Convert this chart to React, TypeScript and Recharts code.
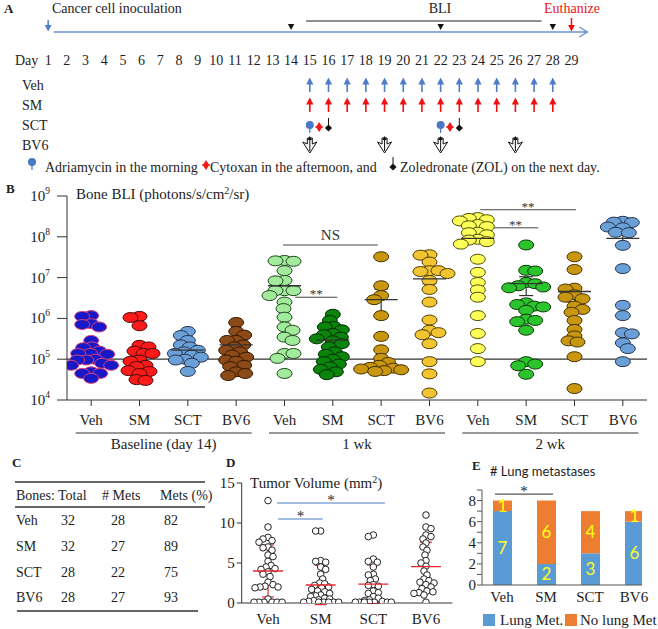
import React from 'react';
import {
  ScatterChart, Scatter, XAxis, YAxis, ReferenceLine, ErrorBar,
  BarChart, Bar, LabelList,
} from 'recharts';

const SERIF = "'Liberation Serif', 'Times New Roman', Times, serif";
const SANS = "Lato, 'Liberation Sans', Arial, sans-serif";
const INK = '#1d1d1d';

/* ================= Panel A : schedule ================= */
const DAYS = [1, 2, 3, 4, 5, 6, 7, 8, 9, 10, 11, 12, 13, 14, 15, 16, 17, 18, 19, 20, 21, 22, 23, 24, 25, 26, 27, 28, 29];
const TREATMENT_ROWS = ['Veh', 'SM', 'SCT', 'BV6'];
const VEH_DOSE_DAYS = [15, 16, 17, 18, 19, 20, 21, 22, 23, 24, 25, 26, 27, 28];
const SM_DOSE_DAYS = [15, 16, 17, 18, 19, 20, 21, 22, 23, 24, 25, 26, 27, 28];
const ADRIAMYCIN_DAYS = [15, 22];
const CYTOXAN_DAYS = [15.5, 22.5];
const ZOL_DAYS = [16, 23];
const BV6_DOSE_DAYS = [15, 19, 22, 26];
const INOCULATION_DAYS = [1];
const BLI_DAYS = [14, 22, 28];
const EUTHANIZE_DAYS = [29];
const TIMELINE_RANGE = [1.3, 29.85];
const BLI_RANGE = [14.8, 27.4];

/* ================= Panel B : bone BLI ================= */
const B_CATEGORIES = ['Veh', 'SM', 'SCT', 'BV6', 'Veh', 'SM', 'SCT', 'BV6', 'Veh', 'SM', 'SCT', 'BV6'];
const B_PERIODS = ['Baseline (day 14)', '1 wk', '2 wk'];
const B_PERIOD_CENTERS = [1.5, 5.5, 9.5];
const B_Y_TICKS = [1e4, 1e5, 1e6, 1e7, 1e8, 1e9];

const BASELINE_VEH = [1.17e6, 1.12e6, 7.41e5, 7.08e5, 6.17e5, 2.88e5, 2.0e5, 1.91e5, 1.58e5, 1.38e5, 1.38e5, 1.32e5, 1.0e5, 9.55e4, 9.55e4, 7.94e4, 7.08e4, 7.08e4, 4.9e4, 4.47e4, 4.47e4, 3.39e4];
const BASELINE_SM = [1.12e6, 1.05e6, 6.61e5, 2.19e5, 2.0e5, 1.58e5, 1.38e5, 1.38e5, 9.55e4, 8.91e4, 7.08e4, 6.61e4, 5.25e4, 5.01e4, 4.47e4, 3.16e4, 3.02e4];
const BASELINE_SCT = [4.79e5, 3.8e5, 2.88e5, 2.24e5, 2.0e5, 1.66e5, 1.51e5, 1.38e5, 1.26e5, 1.12e5, 1.0e5, 9.55e4, 7.94e4, 5.01e4];
const BASELINE_BV6 = [7.94e5, 4.79e5, 3.89e5, 2.88e5, 2.88e5, 2.24e5, 2.0e5, 1.66e5, 1.51e5, 1.26e5, 1.12e5, 9.55e4, 8.91e4, 7.08e4, 6.61e4, 4.9e4, 4.47e4, 3.98e4];
const WK1_VEH = [2.63e7, 2.57e7, 2.51e7, 1.48e7, 8.51e6, 8.32e6, 4.79e6, 4.79e6, 4.79e6, 3.63e6, 2.51e6, 1.74e6, 1.07e6, 6.17e5, 5.13e5, 3.47e5, 2.88e5, 1.38e5, 1.38e5, 1.05e5, 4.47e4];
const WK1_SM = [1.26e6, 8.91e5, 6.31e5, 6.17e5, 5.25e5, 4.27e5, 3.98e5, 3.47e5, 3.16e5, 2.82e5, 2.4e5, 2.0e5, 1.51e5, 1.32e5, 1.15e5, 1.0e5, 8.71e4, 7.59e4, 6.46e4, 5.62e4, 4.9e4, 4.17e4];
const WK1_SCT = [3.24e7, 6.31e6, 3.63e6, 2.88e6, 1.17e6, 3.63e5, 1.7e5, 1.05e5, 8.32e4, 7.08e4, 6.31e4, 6.03e4, 5.75e4, 5.5e4, 5.25e4, 5.01e4];
const WK1_BV6 = [3.63e7, 3.55e7, 2.4e7, 1.48e7, 1.48e7, 1.41e7, 1.26e7, 8.51e6, 5.13e6, 2.51e6, 9.12e5, 5.13e5, 4.47e5, 3.98e5, 2.4e5, 8.71e4, 4.37e4, 1.48e4];
const WK2_VEH = [2.95e8, 2.82e8, 2.63e8, 2.45e8, 2.0e8, 1.86e8, 1.78e8, 1.29e8, 1.26e8, 1.12e8, 8.71e7, 8.32e7, 7.59e7, 6.61e7, 2.82e7, 1.35e7, 7.59e6, 5.01e6, 3.31e6, 1.17e6, 4.27e5, 1.82e5, 8.71e4];
const WK2_SM = [6.31e7, 1.51e7, 1.45e7, 7.59e6, 7.08e6, 6.31e6, 5.89e6, 5.62e6, 2.4e6, 2.19e6, 2.0e6, 1.91e6, 1.58e6, 9.55e5, 8.91e5, 8.32e5, 5.13e5, 8.71e4, 7.59e4, 6.92e4, 4.27e4];
const WK2_SCT = [3.24e7, 1.58e7, 5.5e6, 5.25e6, 3.8e6, 3.31e6, 3.02e6, 2.0e6, 1.66e6, 1.41e6, 8.91e5, 5.37e5, 3.72e5, 2.82e5, 2.63e5, 1.15e5, 1.91e4];
const WK2_BV6 = [2.4e8, 2.29e8, 2.24e8, 1.74e8, 1.66e8, 1.29e8, 1.26e8, 6.17e7, 1.66e7, 2.09e6, 1.17e6, 4.47e5, 4.17e5, 2.51e5, 1.82e5, 8.71e4];

const B_MEAN = [null, null, 1.66e5, 2.24e5, 6.31e6, 2.95e5, 2.88e6, 9.33e6, 9.12e7, 7.08e6, 4.57e6, 9.12e7];
const B_SEM_LOW = [null, null, 1.38e5, 1.86e5, 4.17e6, 2.51e5, 1.17e6, 7.08e6, 8.51e7, 3.63e6, 2.51e6, 6.61e7];
const B_SEM_HIGH = [null, null, 2.0e5, 2.63e5, 8.71e6, 3.98e5, 5.25e6, 1.2e7, 1.12e8, 1.05e7, 6.03e6, 1.17e8];

const B_SIG_X1 = [3.97, 4.22, 8.05, 8.31];
const B_SIG_X2 = [5.93, 5.09, 10.03, 9.25];
const B_SIG_Y = [6.3e7, 3.3e6, 4.6e8, 1.66e8];
const B_SIG_LABEL = ['NS', '**', '**', '**'];

/* ================= Panel C : table ================= */
const C_HEADERS = ['Bones:', 'Total', '# Mets', 'Mets (%)'];
const C_GROUPS = ['Veh', 'SM', 'SCT', 'BV6'];
const C_TOTAL = [32, 32, 28, 28];
const C_METS = [28, 27, 22, 27];
const C_PCT = [82, 89, 75, 93];

/* ================= Panel D : tumor volume ================= */
const D_GROUPS = ['Veh', 'SM', 'SCT', 'BV6'];
const D_VEH = [12.8, 9.5, 8.2, 8.0, 7.8, 7.6, 7.0, 6.9, 6.6, 6.0, 5.8, 5.2, 4.7, 4.5, 4.3, 4.2, 3.9, 3.6, 3.3, 2.6, 2.3, 2.1, 2.0, 2.0, 1.9, 0.5, 0.1, 0.1, 0.1, 0.1, 0.1, 0.1];
const D_SM = [9.0, 9.0, 5.3, 5.2, 5.1, 4.5, 4.2, 3.6, 3.0, 2.5, 2.4, 2.2, 2.0, 1.9, 1.7, 1.5, 1.4, 1.2, 1.0, 0.9, 0.8, 0.6, 0.5, 0.4, 0.3, 0.2, 0.1, 0.1, 0.1, 0.1, 0.1, 0.1];
const D_SCT = [8.5, 8.3, 5.5, 5.2, 5.1, 4.5, 3.6, 3.5, 3.0, 2.8, 2.3, 2.2, 2.1, 1.5, 1.3, 1.2, 0.8, 0.6, 0.4, 0.3, 0.2, 0.1, 0.1, 0.1, 0.1, 0.1, 0.1, 0.1];
const D_BV6 = [11.0, 9.5, 9.3, 8.5, 8.3, 8.0, 7.5, 7.0, 6.6, 6.0, 5.3, 5.0, 4.6, 4.0, 3.5, 3.0, 2.8, 2.6, 2.5, 2.3, 2.0, 1.8, 1.5, 1.4, 1.3, 1.2, 1.0, 0.1];
const D_MEAN = [4.0, 2.25, 2.35, 4.55];
const D_SD = [3.25, 2.45, 2.4, 3.05];
const D_Y_TICKS = [0, 5, 10, 15];
const D_SIG_X1 = [0.17, 0.19];
const D_SIG_X2 = [2.22, 1.04];
const D_SIG_Y = [12.5, 10.5];

/* ================= Panel E : lung metastases ================= */
const E_GROUPS = ['Veh', 'SM', 'SCT', 'BV6'];
const E_LUNG_MET = [7, 2, 3, 6];
const E_NO_LUNG_MET = [1, 6, 4, 1];
const E_SERIES_NAMES = ['Lung Met.', 'No lung Met'];
const E_Y_TICKS = [0, 1, 2, 3, 4, 5, 6, 7, 8, 9];
const E_SIG = { x1: -0.16, x2: 1.16, y: 8.6 };

/* ================= styles / layout ================= */
const A_LEFT = 29.45;
const A_RIGHT = 67.85;
const BLUE_ARROW = '#4d7cc9';
const RED_ARROW = '#f01010';
const B_PX_PER_CAT = 580 / 12;
const B_PX_PER_DECADE = 204 / 5;
const D_PX_PER_CAT = 210.6 / 4;
const D_PX_PER_UNIT = 8;
const B_FILL = ['#1818c8', '#ff1a1a', '#6a9fd8', '#8b4a17', '#a2eb9c', '#0b840b', '#c8960f', '#f2c430', '#ffff5a', '#2cc42c', '#c8960f', '#6a9fd8'];
const B_STROKE = ['#d8407a', '#4a0808', '#25354f', '#341700', '#1c451c', '#042c04', '#433000', '#4a3a00', '#4d4d00', '#0a360a', '#433000', '#25354f'];
const E_COLORS = ['#5b9bd5', '#ed7d31'];

/* beeswarm layout: horizontal offsets (px) so points don't pile on top of each other */
function swarmOffsets(values: number[], toPx: (v: number) => number, dx: number, dy: number, maxOff: number): number[] {
  const order = values.map((_, i) => i).sort((a, b) => values[b] - values[a]);
  const placed: { x: number; y: number }[] = [];
  const out = new Array(values.length).fill(0);
  order.forEach((i, n) => {
    const y = toPx(values[i]);
    const cands = [0];
    const s = n % 2 ? -1 : 1;
    for (let k = 1; k <= maxOff; k++) cands.push(s * k, -s * k);
    let best = 0;
    let bestScore = Infinity;
    for (const c of cands) {
      let score = 0;
      for (const p of placed) {
        const q = ((p.x - c) / dx) ** 2 + ((p.y - y) / dy) ** 2;
        if (q < 1) score += 1 - q;
      }
      if (score === 0) { best = c; bestScore = 0; break; }
      if (score < bestScore - 1e-9) { bestScore = score; best = c; }
    }
    placed.push({ x: best, y });
    out[i] = best;
  });
  return out;
}

const B_SERIES = [BASELINE_VEH, BASELINE_SM, BASELINE_SCT, BASELINE_BV6, WK1_VEH, WK1_SM, WK1_SCT, WK1_BV6, WK2_VEH, WK2_SM, WK2_SCT, WK2_BV6];
const B_POINTS = B_SERIES.map((vals, i) => {
  const off = swarmOffsets(vals, (v) => Math.log10(v) * B_PX_PER_DECADE, 9, 6.5, 20);
  return vals.map((v, k) => ({ x: i + off[k] / B_PX_PER_CAT, y: v }));
});
const B_MEAN_DATA = B_MEAN.map((m, i) => (m == null ? null : {
  x: i, y: m, err: [m - (B_SEM_LOW[i] as number), (B_SEM_HIGH[i] as number) - m],
})).filter(Boolean) as { x: number; y: number; err: number[] }[];

const D_SERIES = [D_VEH, D_SM, D_SCT, D_BV6];
const D_POINTS = D_SERIES.map((vals, i) => {
  const off = swarmOffsets(vals, (v) => v * D_PX_PER_UNIT, 5, 5, 18);
  return vals.map((v, k) => ({ x: i + off[k] / D_PX_PER_CAT, y: v }));
});
const D_MEAN_DATA = D_MEAN.map((m, i) => ({ x: i, y: m, err: [D_SD[i], D_SD[i]] }));

const E_DATA = E_GROUPS.map((g, i) => ({ x: i, met: E_LUNG_MET[i], none: E_NO_LUNG_MET[i] }));

/* ================= glyphs ================= */
type P = { cx?: number; cy?: number };
const upArrow = (color: string) => ({ cx = 0, cy = 0 }: P) => (
  <g>
    <line x1={cx} x2={cx} y1={cy + 7} y2={cy - 2} stroke={color} strokeWidth={1.6} />
    <polygon points={`${cx},${cy - 7.5} ${cx - 3.6},${cy - 0.5} ${cx + 3.6},${cy - 0.5}`} fill={color} />
  </g>
);
const downArrow = (color: string, len: number) => ({ cx = 0, cy = 0 }: P) => (
  <g>
    <line x1={cx} x2={cx} y1={cy - len} y2={cy - 5} stroke={color} strokeWidth={1.5} />
    <polygon points={`${cx},${cy - 0.5} ${cx - 3.4},${cy - 7} ${cx + 3.4},${cy - 7}`} fill={color} />
  </g>
);
const BliMarker = ({ cx = 0, cy = 0 }: P) => (
  <polygon points={`${cx - 3.2},${cy - 8} ${cx + 3.2},${cy - 8} ${cx},${cy - 2}`} fill="#111" />
);
const ChevronEnd = ({ cx = 0, cy = 0 }: P) => (
  <polyline points={`${cx - 8},${cy - 5} ${cx},${cy} ${cx - 8},${cy + 5}`} fill="none" stroke="#6f8fce" strokeWidth={1.4} />
);
const AdriamycinGlyph = ({ cx = 0, cy = 0 }: P) => (
  <g>
    <line x1={cx} x2={cx} y1={cy + 2} y2={cy + 8} stroke="#4472c4" strokeWidth={1.2} />
    <circle cx={cx} cy={cy} r={4} fill="#4a78c8" />
  </g>
);
const CytoxanGlyph = ({ cx = 0, cy = 0 }: P) => (
  <g>
    <polygon points={`${cx},${cy - 3} ${cx + 3.2},${cy + 2} ${cx},${cy + 7} ${cx - 3.2},${cy + 2}`} fill="#f01818" />
    <line x1={cx - 4} x2={cx + 4} y1={cy + 2} y2={cy + 2} stroke="#f01818" strokeWidth={1.2} />
  </g>
);
const ZolGlyph = ({ cx = 0, cy = 0 }: P) => (
  <g>
    <line x1={cx} x2={cx} y1={cy - 7} y2={cy} stroke="#111" strokeWidth={1} />
    <polygon points={`${cx},${cy - 0.5} ${cx + 3.6},${cy + 3} ${cx},${cy + 6.5} ${cx - 3.6},${cy + 3}`} fill="#111" />
  </g>
);
const Bv6Glyph = ({ cx = 0, cy = 0 }: P) => (
  <g>
    <polygon
      points={`${cx - 2.5},${cy - 7} ${cx + 2.5},${cy - 7} ${cx + 2.5},${cy - 1} ${cx + 7},${cy - 3} ${cx},${cy + 8} ${cx - 7},${cy - 3} ${cx - 2.5},${cy - 1}`}
      fill="#fff" stroke="#111" strokeWidth={1}
    />
    <line x1={cx} x2={cx} y1={cy - 7} y2={cy + 6} stroke="#111" strokeWidth={1} />
    <polygon points={`${cx},${cy - 9} ${cx - 2.2},${cy - 5} ${cx + 2.2},${cy - 5}`} fill="#111" />
  </g>
);
const sctGlyph = (kind: string) => (props: P) => {
  if (kind === 'adr') return <AdriamycinGlyph {...props} />;
  if (kind === 'cyt') return <CytoxanGlyph {...props} />;
  return <ZolGlyph {...props} />;
};

const ellipseDot = (fill: string, stroke: string) => ({ cx = 0, cy = 0 }: P) => (
  <ellipse cx={cx} cy={cy} rx={7.5} ry={5} fill={fill} stroke={stroke} strokeWidth={1} />
);
const BMeanTick = ({ cx = 0, cy = 0 }: P) => (
  <line x1={cx - 16.5} x2={cx + 16.5} y1={cy} y2={cy} stroke="#333" strokeWidth={1.3} />
);
const OpenCircle = ({ cx = 0, cy = 0 }: P) => (
  <circle cx={cx} cy={cy} r={3.3} fill="#fff" stroke="#222" strokeWidth={1} />
);
const DMeanTick = ({ cx = 0, cy = 0 }: P) => (
  <line x1={cx - 15} x2={cx + 15} y1={cy} y2={cy} stroke="#e8282e" strokeWidth={1.3} />
);

const PowTick = (props: any) => {
  const { x, y, payload } = props;
  const e = Math.round(Math.log10(payload.value));
  return (
    <text x={x} y={y + 5} textAnchor="end" fontFamily={SERIF} fontSize={15} fill={INK}>
      10<tspan dy={-7} fontSize={9.5}>{e}</tspan>
    </text>
  );
};
const PeriodTick = (props: any) => {
  const { x, y, payload } = props;
  const i = B_PERIOD_CENTERS.indexOf(payload.value);
  return (
    <g>
      <line x1={x - 88} x2={x + 88} y1={y + 5} y2={y + 5} stroke="#333" strokeWidth={1.2} />
      <text x={x} y={y + 21} textAnchor="middle" fontFamily={SERIF} fontSize={15} fill={INK}>{B_PERIODS[i]}</text>
    </g>
  );
};
const RowTick = (props: any) => {
  const { y, payload } = props;
  return (
    <text x={22} y={y + 5} textAnchor="start" fontFamily={SERIF} fontSize={14} fill={INK}>
      {TREATMENT_ROWS[payload.value - 1]}
    </text>
  );
};

/* ================= charts ================= */
function TimelineChart() {
  return (
    <ScatterChart width={658} height={40} margin={{ top: 21, right: A_RIGHT, bottom: 8, left: A_LEFT }}>
      <XAxis type="number" dataKey="day" domain={[0, 30]} hide />
      <YAxis type="number" dataKey="lane" domain={[0, 1]} hide />
      <ReferenceLine ifOverflow="visible" segment={[{ x: TIMELINE_RANGE[0], y: 0 }, { x: TIMELINE_RANGE[1], y: 0 }]} stroke="#6f8fce" strokeWidth={1.5} />
      <ReferenceLine ifOverflow="visible" segment={[{ x: BLI_RANGE[0], y: 1 }, { x: BLI_RANGE[1], y: 1 }]} stroke="#222" strokeWidth={1} />
      <Scatter data={[{ day: TIMELINE_RANGE[1], lane: 0 }]} shape={ChevronEnd} isAnimationActive={false} />
      <Scatter data={INOCULATION_DAYS.map((d) => ({ day: d, lane: 0 }))} shape={downArrow(BLUE_ARROW, 12)} isAnimationActive={false} />
      <Scatter data={BLI_DAYS.map((d) => ({ day: d, lane: 0 }))} shape={BliMarker} isAnimationActive={false} />
      <Scatter data={EUTHANIZE_DAYS.map((d) => ({ day: d, lane: 0 }))} shape={downArrow(RED_ARROW, 14)} isAnimationActive={false} />
    </ScatterChart>
  );
}

function ScheduleChart() {
  const rowOf = (name: string) => TREATMENT_ROWS.indexOf(name) + 1;
  return (
    <ScatterChart width={658} height={122} margin={{ top: 0, right: A_RIGHT, bottom: 7, left: 0 }}>
      <XAxis
        type="number" dataKey="day" domain={[0, 30]} orientation="top" ticks={DAYS} interval={0}
        axisLine={false} tickLine={false} tickSize={0} tickMargin={10} height={35}
        tick={{ fontSize: 14, fontFamily: SERIF, fill: INK }}
      />
      <YAxis
        type="number" dataKey="row" domain={[0.5, 4.5]} reversed ticks={[1, 2, 3, 4]} interval={0}
        width={A_LEFT} axisLine={false} tickLine={false} tick={RowTick}
      />
      <Scatter data={VEH_DOSE_DAYS.map((d) => ({ day: d, row: rowOf('Veh') }))} shape={upArrow(BLUE_ARROW)} isAnimationActive={false} />
      <Scatter data={SM_DOSE_DAYS.map((d) => ({ day: d, row: rowOf('SM') }))} shape={upArrow(RED_ARROW)} isAnimationActive={false} />
      <Scatter data={ADRIAMYCIN_DAYS.map((d) => ({ day: d, row: rowOf('SCT') }))} shape={sctGlyph('adr')} isAnimationActive={false} />
      <Scatter data={CYTOXAN_DAYS.map((d) => ({ day: d, row: rowOf('SCT') }))} shape={sctGlyph('cyt')} isAnimationActive={false} />
      <Scatter data={ZOL_DAYS.map((d) => ({ day: d, row: rowOf('SCT') }))} shape={sctGlyph('zol')} isAnimationActive={false} />
      <Scatter data={BV6_DOSE_DAYS.map((d) => ({ day: d, row: rowOf('BV6') }))} shape={Bv6Glyph} isAnimationActive={false} />
    </ScatterChart>
  );
}

function BliChart() {
  return (
    <ScatterChart width={658} height={280} margin={{ top: 16, right: 11, bottom: 0, left: 0 }}>
      <XAxis
        xAxisId="cat" type="number" dataKey="x" domain={[-0.5, 11.5]} ticks={B_CATEGORIES.map((_, i) => i)} interval={0}
        tickFormatter={(i: number) => B_CATEGORIES[i]} height={28} tickSize={6} tickMargin={8} stroke="#333"
        tick={{ fontSize: 15, fontFamily: SERIF, fill: INK }} allowDataOverflow
      />
      <XAxis
        xAxisId="period" type="number" dataKey="x" domain={[-0.5, 11.5]} ticks={B_PERIOD_CENTERS} interval={0}
        height={32} axisLine={false} tickLine={false} tickSize={0} tickMargin={0} tick={PeriodTick} allowDataOverflow
      />
      <YAxis
        type="number" dataKey="y" scale="log" domain={[1e4, 1e9]} ticks={B_Y_TICKS} interval={0} width={67}
        tickSize={10} tickMargin={7} stroke="#333" tick={PowTick} allowDataOverflow
      />
      <ReferenceLine xAxisId="cat" y={1e5} stroke="#333" strokeWidth={1.2} />
      {B_POINTS.map((pts, i) => (
        <Scatter key={i} xAxisId="cat" data={pts} shape={ellipseDot(B_FILL[i], B_STROKE[i])} isAnimationActive={false} />
      ))}
      <Scatter xAxisId="cat" data={B_MEAN_DATA} shape={BMeanTick} isAnimationActive={false}>
        <ErrorBar dataKey="err" direction="y" width={7} stroke="#333" strokeWidth={1.2} isAnimationActive={false} />
      </Scatter>
      {B_SIG_LABEL.map((lab, i) => (
        <ReferenceLine
          key={'sig' + i} xAxisId="cat" ifOverflow="visible"
          segment={[{ x: B_SIG_X1[i], y: B_SIG_Y[i] }, { x: B_SIG_X2[i], y: B_SIG_Y[i] }]}
          stroke="#444" strokeWidth={1}
          label={{ value: lab, position: 'top', offset: lab === 'NS' ? 5 : -1, fill: '#333', fontSize: lab === 'NS' ? 15 : 13, fontFamily: SERIF }}
        />
      ))}
    </ScatterChart>
  );
}

function TumorChart() {
  return (
    <ScatterChart width={258} height={159} margin={{ top: 13, right: 5.7, bottom: 0, left: 0 }}>
      <XAxis
        type="number" dataKey="x" domain={[-0.5, 3.5]} ticks={[0, 1, 2, 3]} interval={0}
        tickFormatter={(i: number) => D_GROUPS[i]} height={26} tickLine={false} tickSize={0} tickMargin={10}
        stroke="#333" tick={{ fontSize: 15, fontFamily: SERIF, fill: INK }} allowDataOverflow
      />
      <YAxis
        type="number" dataKey="y" domain={[0, 15]} ticks={D_Y_TICKS} interval={0} width={41.7}
        tickSize={5} tickMargin={2} stroke="#333" tick={{ fontSize: 15, fontFamily: SERIF, fill: INK }} allowDataOverflow
      />
      {D_SIG_Y.map((yv, i) => (
        <ReferenceLine
          key={'dsig' + i} ifOverflow="visible"
          segment={[{ x: D_SIG_X1[i], y: yv }, { x: D_SIG_X2[i], y: yv }]}
          stroke="#4a7cc8" strokeWidth={1.2}
          label={{ value: '*', position: 'top', offset: -2, fill: INK, fontSize: 15, fontFamily: SERIF }}
        />
      ))}
      {D_POINTS.map((pts, i) => (
        <Scatter key={i} data={pts} shape={OpenCircle} isAnimationActive={false} />
      ))}
      <Scatter data={D_MEAN_DATA} shape={DMeanTick} isAnimationActive={false}>
        <ErrorBar dataKey="err" direction="y" width={6} stroke="#e8282e" strokeWidth={1.2} isAnimationActive={false} />
      </Scatter>
    </ScatterChart>
  );
}

function LungChart() {
  return (
    <BarChart width={218} height={154} data={E_DATA} margin={{ top: 15, right: 16, bottom: 20, left: 0 }}>
      <XAxis
        type="number" dataKey="x" domain={[-0.4545, 3.1818]} ticks={[0, 1, 2, 3]} interval={0}
        tickFormatter={(i: number) => E_GROUPS[i]} height={24} tickLine={false} tickSize={0} tickMargin={6}
        stroke="#555" tick={{ fontSize: 15, fontFamily: SERIF, fill: INK }} allowDataOverflow
      />
      <YAxis
        type="number" domain={[0, 9]} ticks={E_Y_TICKS} interval={0} width={42}
        tickFormatter={(v: number) => (v % 2 === 0 && v < 9 ? String(v) : '')}
        tickSize={5} tickMargin={1} stroke="#555" tick={{ fontSize: 15, fontFamily: SERIF, fill: INK }} allowDataOverflow
      />
      <ReferenceLine
        ifOverflow="visible" segment={[{ x: E_SIG.x1, y: E_SIG.y }, { x: E_SIG.x2, y: E_SIG.y }]}
        stroke="#555" strokeWidth={1.2}
        label={{ value: '*', position: 'top', offset: -2, fill: INK, fontSize: 15, fontFamily: SERIF }}
      />
      <Bar dataKey="met" name={E_SERIES_NAMES[0]} stackId="s" fill={E_COLORS[0]} barSize={19} isAnimationActive={false}>
        <LabelList dataKey="met" position="center" fill="#ffff1a" fontSize={17} fontFamily={SANS} />
      </Bar>
      <Bar dataKey="none" name={E_SERIES_NAMES[1]} stackId="s" fill={E_COLORS[1]} barSize={19} isAnimationActive={false}>
        <LabelList dataKey="none" position="center" fill="#ffff1a" fontSize={17} fontFamily={SANS} />
      </Bar>
    </BarChart>
  );
}

/* ================= page ================= */
function Overlay() {
  const t = { fontFamily: SERIF, fill: INK } as const;
  const letter = { fontFamily: SERIF, fontWeight: 700, fontSize: 13, fill: INK } as const;
  const C_COL_X = [68, 118, 171];
  const C_ROW_BASE = [525, 551, 577, 602];
  return (
    <svg width={658} height={629} style={{ position: 'absolute', left: 0, top: 0, pointerEvents: 'none' }}>
      {/* panel A texts */}
      <text x={4} y={13} {...letter}>A</text>
      <text x={52} y={13} fontSize={14} {...t}>Cancer cell inoculation</text>
      <text x={440} y={13} fontSize={14} textAnchor="middle" {...t}>BLI</text>
      <text x={572} y={13} fontSize={14} textAnchor="middle" fontFamily={SERIF} fill="#e8161b">Euthanize</text>
      <text x={15} y={65} fontSize={14} {...t}>Day</text>
      <AdriamycinGlyph cx={32} cy={162} />
      <text x={45} y={172} fontSize={14} {...t}>Adriamycin in the morning</text>
      <CytoxanGlyph cx={206} cy={163} />
      <text x={210} y={172} fontSize={14} {...t}>Cytoxan in the afternoon, and</text>
      <ZolGlyph cx={393} cy={164} />
      <text x={400} y={172} fontSize={14} {...t}>Zoledronate (ZOL) on the next day.</text>

      {/* panel B */}
      <text x={6} y={193} {...letter}>B</text>
      <text x={76} y={199} fontSize={15} {...t}>
        Bone BLI (photons/s/cm<tspan dy={-5} fontSize={10}>2</tspan><tspan dy={5}>/sr)</tspan>
      </text>

      {/* panel C table */}
      <text x={12} y={467} {...letter}>C</text>
      <line x1={15} x2={205} y1={482} y2={482} stroke="#333" strokeWidth={1.3} />
      <text x={16} y={500} fontSize={14} {...t}>{C_HEADERS[0]}</text>
      <text x={58} y={500} fontSize={14} {...t}>{C_HEADERS[1]}</text>
      <text x={102} y={500} fontSize={14} {...t}>{C_HEADERS[2]}</text>
      <text x={160} y={500} fontSize={14} {...t}>{C_HEADERS[3]}</text>
      <line x1={15} x2={205} y1={507} y2={507} stroke="#333" strokeWidth={1.3} />
      {C_GROUPS.map((g, i) => (
        <g key={g}>
          <text x={16} y={C_ROW_BASE[i]} fontSize={14} {...t}>{g}</text>
          <text x={C_COL_X[0]} y={C_ROW_BASE[i]} fontSize={14} textAnchor="middle" {...t}>{C_TOTAL[i]}</text>
          <text x={C_COL_X[1]} y={C_ROW_BASE[i]} fontSize={14} textAnchor="middle" {...t}>{C_METS[i]}</text>
          <text x={C_COL_X[2]} y={C_ROW_BASE[i]} fontSize={14} textAnchor="middle" {...t}>{C_PCT[i]}</text>
        </g>
      ))}
      <line x1={17} x2={198} y1={611} y2={611} stroke="#333" strokeWidth={1.3} />

      {/* panel D */}
      <text x={226} y={467} {...letter}>D</text>
      <text x={250} y={488} fontSize={15} {...t}>
        Tumor Volume (mm<tspan dy={-5} fontSize={10}>2</tspan><tspan dy={5}>)</tspan>
      </text>

      {/* panel E */}
      <text x={472} y={470} {...letter}>E</text>
      <text x={490} y={476} fontSize={13} fontFamily={SANS} fill={INK}># Lung metastases</text>
      <rect x={483} y={614} width={12} height={12} fill={E_COLORS[0]} />
      <text x={500} y={625} fontSize={15} {...t}>{E_SERIES_NAMES[0]}</text>
      <rect x={565} y={614} width={12} height={12} fill={E_COLORS[1]} />
      <text x={580} y={625} fontSize={15} {...t}>{E_SERIES_NAMES[1]}</text>
    </svg>
  );
}

export default function App() {
  return (
    <div style={{ position: 'absolute', left: 0, top: 0, width: 658, height: 629, background: '#fff', overflow: 'hidden', fontFamily: SERIF }}>
      <div style={{ position: 'absolute', left: 0, top: 0 }}><TimelineChart /></div>
      <div style={{ position: 'absolute', left: 0, top: 40 }}><ScheduleChart /></div>
      <div style={{ position: 'absolute', left: 0, top: 180 }}><BliChart /></div>
      <div style={{ position: 'absolute', left: 200, top: 470 }}><TumorChart /></div>
      <div style={{ position: 'absolute', left: 440, top: 475 }}><LungChart /></div>
      <Overlay />
    </div>
  );
}
